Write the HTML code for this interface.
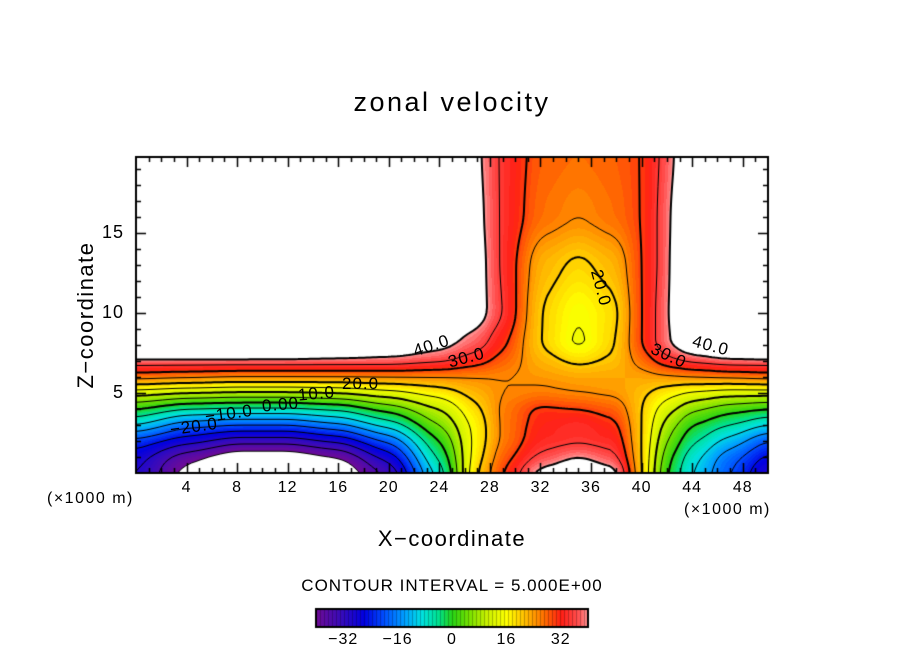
<!DOCTYPE html>
<html><head><meta charset="utf-8">
<style>
body{margin:0;background:#fff;}
#wrap{position:relative;width:904px;height:654px;overflow:hidden;font-family:"Liberation Sans","DejaVu Sans",sans-serif;color:#000;}
.t{position:absolute;white-space:nowrap;}
</style></head><body>
<div id="wrap">
<canvas id="cv" width="904" height="654" style="position:absolute;left:0;top:0"></canvas>
<div class="t" style="left:0;width:904px;text-align:center;top:87px;font-size:27px;letter-spacing:2.5px">zonal velocity</div>
<div class="t" style="left:86px;top:315px;font-size:22px;transform:translate(-50%,-50%) rotate(-90deg);letter-spacing:1.5px">Z−coordinate</div>
<div class="t" style="left:0;width:904px;text-align:center;top:526px;font-size:22px;letter-spacing:1.5px">X−coordinate</div>
<div class="t" style="left:47px;top:490px;font-size:16px;letter-spacing:1.5px">(×1000 m)</div>
<div class="t" style="left:684px;top:501px;font-size:16px;letter-spacing:1.5px">(×1000 m)</div>
<div class="t" style="left:0;width:904px;text-align:center;top:576px;font-size:17px;letter-spacing:1px">CONTOUR INTERVAL = 5.000E+00</div>
<div id="labels"></div>
</div>
<script>
const xs=[0,4,8,12,16,20,24,27,29,32,35,38,40,42,44,47,50];
const zs=[0,1,2,3,4,5,6,7,8,10,13,16,20];
const z0=[-30,-42,-50,-50,-45,-34,-8,20,30,42,46,42,20,0,-10,-20,-30];
const z1=[-28,-38,-44,-44,-40,-28,-4,18,28,36,40,36,20,2,-8,-18,-26];
const z2=[-22,-28,-33,-33,-29,-19,0,17,26,33,34,33,20,5,-4,-12,-20];
const z3=[-10,-18,-20,-20,-16,-8,5,17,26,32,34,31,20,8,0,-5,-10];
const z4=[0,-5,-6,-6,-4,2,10,19,26,31,30,28,20,12,6,2,0];
const z5=[12,10,9,9,10,13,17,22,25,26,25,24,21,17,14,12,12];
const z6=[27,26,25,25,25,25,25,25,25,24,23,23,23,24,25,26,27];
const z7=[38,38,38,38,38,38,36,32,28,22,19,21,27,33,36,38,38];
const z8=[55,55,55,54,50,46,42,37,31,20,14,20,30,39,46,52,55];
const z10=[60,60,60,60,60,55,48,43,35,20,15,19,30,39,52,60,60];
const z13=[60,60,60,60,60,60,55,43,34,22,19,22,30,38,55,60,60];
const z16=[60,60,60,60,60,60,60,42,34,27,25,27,30,38,52,60,60];
const z20=[60,60,60,60,60,60,60,41,34,28,27,28,30,37,48,60,60];
const rows=[z0,z1,z2,z3,z4,z5,z6,z7,z8,z10,z13,z16,z20];
const xTicks=[4,8,12,16,20,24,28,32,36,40,44,48];
const yTicks=[5,10,15];
const cbTicks=[-32,-16,0,16,32];
const levels=[];for(let v=-40;v<=40;v+=5)levels.push(v);

const PL=136,PR=768,PT=157,PB=473,XMAX=50,ZMAX=19.75;
const sx=x=>PL+(PR-PL)*x/XMAX, sy=z=>PB-(PB-PT)*z/ZMAX;
function idx(a,v){for(let i=0;i<a.length-1;i++)if(v<=a[i+1])return i;return a.length-2;}
function field(x,z){const i=idx(xs,x),j=idx(zs,z);
 const tx=Math.max(0,Math.min(1,(x-xs[i])/(xs[i+1]-xs[i]))),tz=Math.max(0,Math.min(1,(z-zs[j])/(zs[j+1]-zs[j])));
 const sx_=tx*tx*(3-2*tx)*0.5+tx*0.5, sz_=tz*tz*(3-2*tz)*0.5+tz*0.5;
 const a=rows[j][i],b=rows[j][i+1],c=rows[j+1][i],d=rows[j+1][i+1];
 return (a*(1-sx_)+b*sx_)*(1-sz_)+(c*(1-sx_)+d*sx_)*sz_;}
function sfield(x,z){const h=0.5,hz=0.35;let s=0;
 for(const dx of [-h,0,h])for(const dz of [-hz,0,hz])s+=field(Math.max(0,Math.min(XMAX,x+dx)),Math.max(0,Math.min(ZMAX,z+dz)));return s/9;}
const stops=[[-40,[110,10,150]],[-32,[50,10,190]],[-26,[0,0,225]],[-20,[0,80,255]],[-14,[0,160,255]],[-9,[0,225,225]],[-4,[0,225,140]],[0,[40,210,20]],[5,[120,225,0]],[10,[200,240,0]],[16,[255,255,0]],[22,[255,180,0]],[27,[255,110,0]],[32,[255,30,20]],[37,[255,80,80]],[40,[255,150,150]]];
function col(v){for(let k=0;k<stops.length-1;k++){const[a,ca]=stops[k],[b,cb]=stops[k+1];if(v<=b){const t=Math.max(0,(v-a)/(b-a));return ca.map((c,i)=>Math.round(c+(cb[i]-c)*t));}}return stops[stops.length-1][1];}

const cv=document.getElementById('cv'),ctx=cv.getContext('2d');
const img=ctx.createImageData(904,654);
for(let py=PT;py<PB;py++)for(let px=PL;px<PR;px++){
 const x=(px+0.5-PL)/(PR-PL)*XMAX,z=(PB-py-0.5)/(PB-PT)*ZMAX;const v=sfield(x,z);
 let c=[255,255,255];if(v>=-40&&v<=40){c=col(Math.floor(v)+0.5);}
 const o=(py*904+px)*4;img.data[o]=c[0];img.data[o+1]=c[1];img.data[o+2]=c[2];img.data[o+3]=255;}
const CL=316,CR=588,CT=609,CB=627;
for(let py=CT;py<CB;py++)for(let px=CL;px<CR;px++){
 const v=-40+80*(px-CL)/(CR-CL);const c=((px-CL)%4===0)?col(v).map(q=>Math.round(q*0.75)):col(v);
 const o=(py*904+px)*4;img.data[o]=c[0];img.data[o+1]=c[1];img.data[o+2]=c[2];img.data[o+3]=255;}
for(let i=0;i<img.data.length;i+=4)if(img.data[i+3]===0){img.data[i]=img.data[i+1]=img.data[i+2]=img.data[i+3]=255;}
ctx.putImageData(img,0,0);
const N=3;const gw=Math.ceil((PR-PL)/N),gh=Math.ceil((PB-PT)/N);
const G=[];for(let j=0;j<=gh;j++){G.push([]);for(let i=0;i<=gw;i++){const px=Math.min(PL+i*N,PR),py=Math.min(PT+j*N,PB);G[j].push(sfield((px-PL)/(PR-PL)*XMAX,(PB-py)/(PB-PT)*ZMAX));}}
ctx.save();ctx.beginPath();ctx.rect(PL,PT,PR-PL,PB-PT);ctx.clip();
levels.forEach(L=>{
 ctx.beginPath();ctx.strokeStyle='#000';ctx.lineWidth=(L%10===0&&L>=0)?2:1;
 if(L<0)ctx.setLineDash([5,4]);else ctx.setLineDash([]);
 for(let j=0;j<gh;j++)for(let i=0;i<gw;i++){
  const x0=PL+i*N,y0=PT+j*N;const a=G[j][i],b=G[j][i+1],c=G[j+1][i+1],d=G[j+1][i];
  const pts=[];const e=(p,q,x1,y1,x2,y2)=>{if((p<L)!==(q<L)){const t=(L-p)/(q-p);pts.push([x1+(x2-x1)*t,y1+(y2-y1)*t]);}};
  e(a,b,x0,y0,x0+N,y0);e(b,c,x0+N,y0,x0+N,y0+N);e(c,d,x0+N,y0+N,x0,y0+N);e(d,a,x0,y0+N,x0,y0);
  if(pts.length>=2){ctx.moveTo(pts[0][0],pts[0][1]);ctx.lineTo(pts[1][0],pts[1][1]);}
  if(pts.length===4){ctx.moveTo(pts[2][0],pts[2][1]);ctx.lineTo(pts[3][0],pts[3][1]);}
 }
 ctx.stroke();});
ctx.restore();ctx.setLineDash([]);
ctx.strokeStyle='#000';ctx.lineWidth=2;ctx.strokeRect(PL,PT,PR-PL,PB-PT);
ctx.lineWidth=1.5;ctx.beginPath();
for(let x=1;x<XMAX;x++){const L=(x%4===0)?10:5;const X=Math.round(sx(x))+0.5;ctx.moveTo(X,PB);ctx.lineTo(X,PB-L);ctx.moveTo(X,PT);ctx.lineTo(X,PT+L);}
for(let z=1;z<ZMAX;z++){const L=(z%5===0)?10:5;const Y=Math.round(sy(z))+0.5;ctx.moveTo(PL,Y);ctx.lineTo(PL+L,Y);ctx.moveTo(PR,Y);ctx.lineTo(PR-L,Y);}
ctx.stroke();
ctx.lineWidth=2;ctx.strokeRect(CL,CT,CR-CL,CB-CT);
const lab=document.getElementById('labels');
function addT(name,txt,x,y,size,extra){const d=document.createElement('div');d.className='t';d.textContent=txt;
 
 
 d.style.cssText+=`left:${x}px;top:${y}px;font-size:${size}px;letter-spacing:1px;`+(extra||'');lab.appendChild(d);}
xTicks.forEach(v=>addT('x-tick-label',String(v),sx(v),479,16,'transform:translateX(-50%)'));
yTicks.forEach(v=>addT('y-tick-label',String(v),124,sy(v)-11,18,'transform:translateX(-100%)'));
cbTicks.forEach(v=>addT('colorbar-tick-label',(v<0?'−':'')+Math.abs(v),CL+(CR-CL)*(v+40)/80,631,16,'transform:translateX(-50%)'));
const cl=[['40.0',413,336,-18],['30.0',448,348,-15],['20.0',342,374,0],['10.0',298,384,-5],['0.00',262,395,-5],['−10.0',205,404,-8],['−20.0',170,417,-8],['20.0',582,278,75],['30.0',650,346,25],['40.0',692,336,15]];
cl.forEach(c=>addT('contour-label',c[0],c[1],c[2],17,`transform:rotate(${c[3]}deg);background:transparent;`));
</script>
</body></html>
